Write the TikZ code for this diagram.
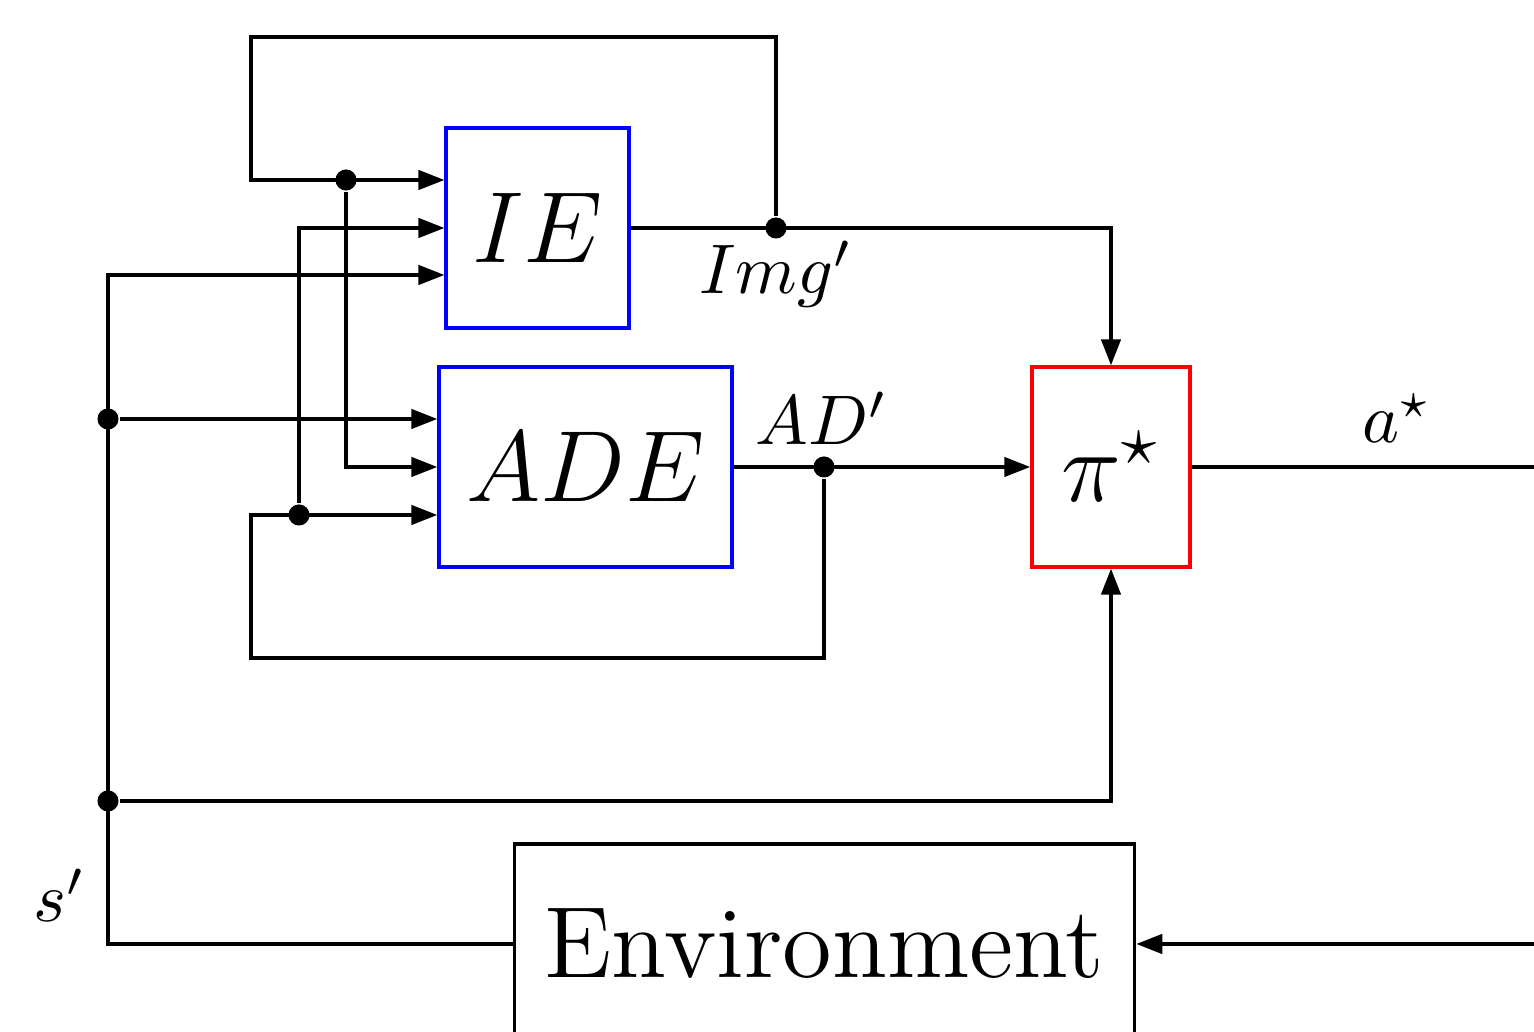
\documentclass[tikz,border=0pt]{standalone}
\usetikzlibrary{arrows.meta}
\begin{document}
\begin{tikzpicture}[x=0.005cm,y=-0.005cm, line width=0.5pt,
  box/.style={draw, inner sep=0pt, minimum height=1cm, font=\Large},
  arr/.style={-{Triangle[length=3.7pt,width=2.75pt]}},
  dot/.style={circle, fill, inner sep=0pt, minimum size=3pt},
  lbl/.style={anchor=base, inner sep=0pt}]
\clip (0,0) rectangle (1534,1032);
% blocks
\node[box, draw=blue, minimum width=26pt] (IE) at (537.5,228) {$IE$};
\node[box, draw=blue, minimum width=41.7pt] (ADE) at (585.5,467) {$ADE$};
\node[box, draw=red, minimum width=22.5pt] (PI) at (1111,467) {$\pi^\star$};
\node[box, draw=black, minimum width=88.3pt] (ENV) at (824.5,944) {Environment};
% junction dots
\node[dot] (d1) at (776,228) {};
\node[dot] (d2) at (346,180) {};
\node[dot] (d3) at (824,467) {};
\node[dot] (d4) at (299,515) {};
\node[dot] (d5) at (108,419) {};
\node[dot] (d6) at (108,801) {};
% corners
\coordinate (t1) at (776,37);
\coordinate (t2) at (251,37);
\coordinate (t3) at (251,180);
\coordinate (b1) at (824,658);
\coordinate (b2) at (251,658);
\coordinate (b3) at (251,515);
\coordinate (e1) at (108,944);
\coordinate (e2) at (108,275);
\coordinate (r1) at (1534,467);
\coordinate (r2) at (1534,944);
% connectors
\draw[arr] (d1) -- (t1) -- (t2) -- (t3) -- (t3 -| IE.west);
\draw[arr] (d2) |- (ADE.west);
\draw[arr] (d3) -- (b1) -- (b2) -- (b3) -- (b3 -| ADE.west);
\draw[arr] (d4) |- (IE.west);
\draw[arr] (ENV.west) -- (e1) -- (e2) -- (e2 -| IE.west);
\draw[arr] (d5) -- (d5 -| ADE.west);
\draw[arr] (d6) -| (PI.south);
\draw[arr] (IE.east) -| (PI.north);
\draw[arr] (ADE.east) -- (PI.west);
\draw (PI.east) -- (r1);
\draw[arr] (r2) -- (ENV.east);
% labels
\node[lbl] (limg) at (776,294) {$Img'$};
\node[lbl] (lad) at (822,445) {$AD'$};
\node[lbl] (la) at (1397,443) {$a^\star$};
\node[lbl] (ls) at (60,922) {$s'$};
\end{tikzpicture}
\end{document}
